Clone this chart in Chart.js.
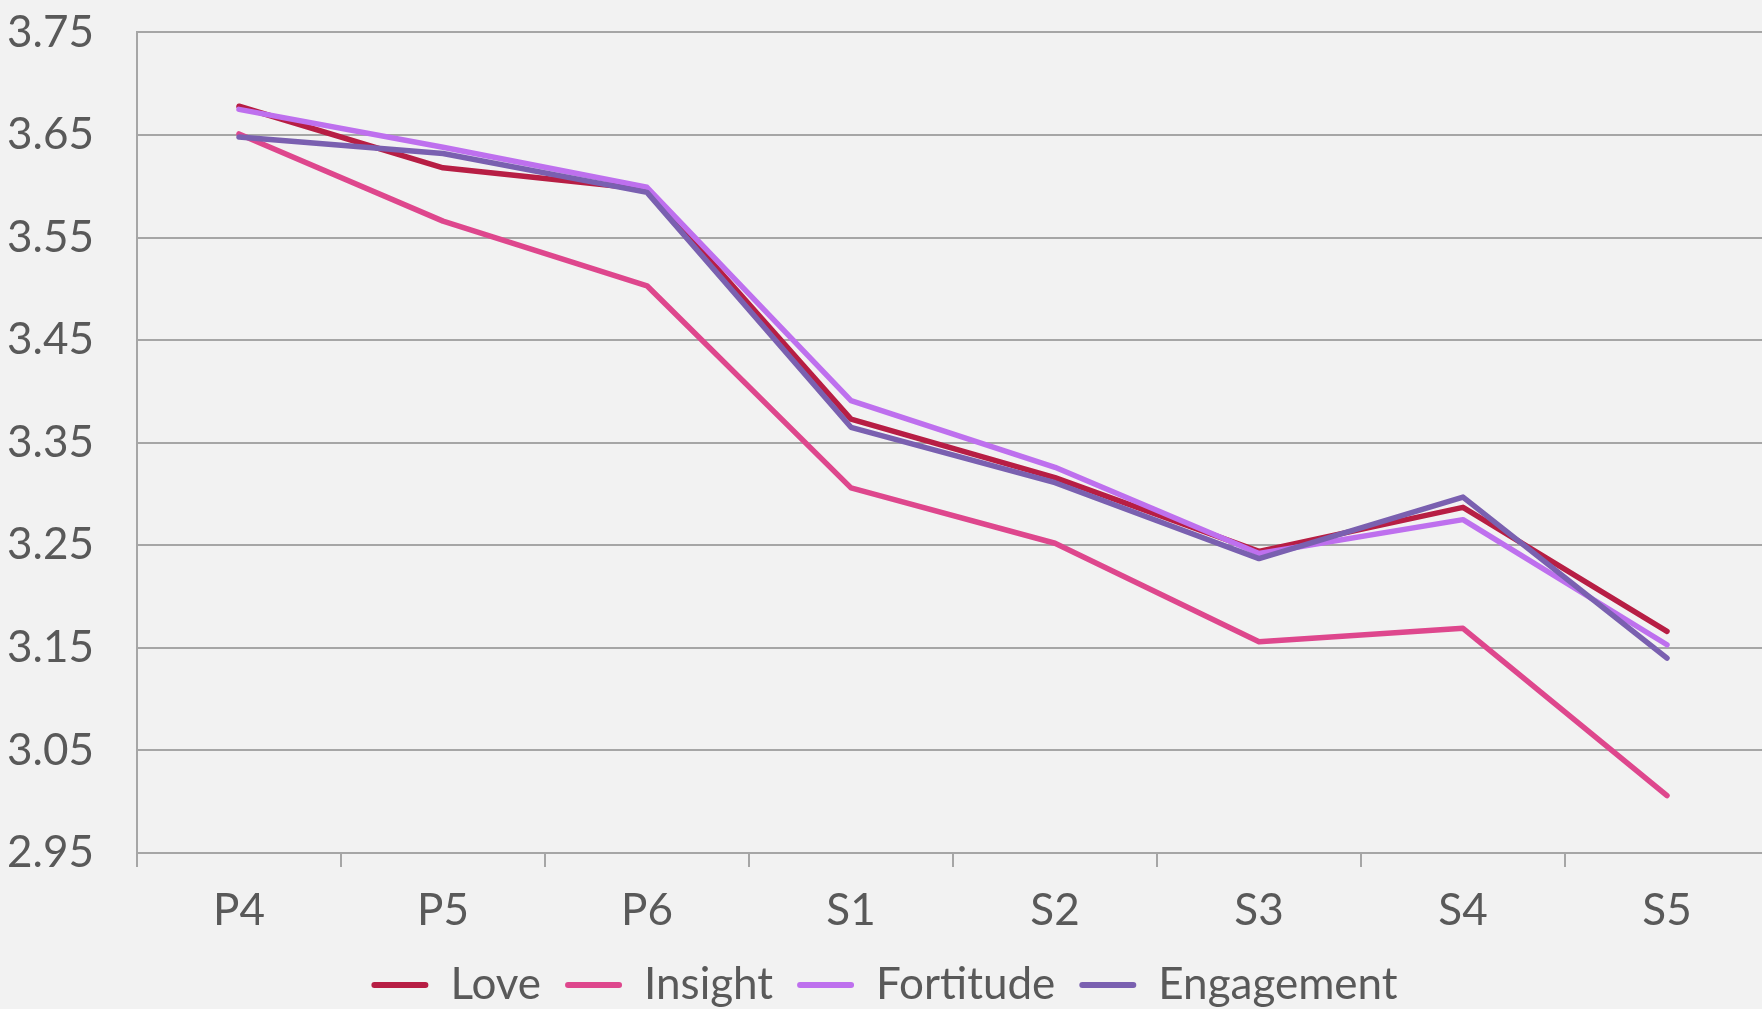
<!DOCTYPE html>
<html>
<head>
<meta charset="utf-8">
<script src="https://cdn.jsdelivr.net/npm/chart.js@4/dist/chart.umd.min.js"></script>
<style>
    html, body { margin: 0; padding: 0; background: #F2F2F2; overflow: hidden; }
    #wrap { position: absolute; left: 0; top: 0; width: 1769px; height: 1017px; }
</style>
</head>
<body>
<div id="wrap"><canvas id="lineChart"></canvas></div>
<script>
// ==================== DATA ====================
const grades = ['P4', 'P5', 'P6', 'S1', 'S2', 'S3', 'S4', 'S5'];
const love       = [3.678, 3.618, 3.597, 3.373, 3.316, 3.244, 3.287, 3.166];
const insight    = [3.651, 3.566, 3.503, 3.306, 3.252, 3.156, 3.169, 3.006];
const fortitude  = [3.675, 3.638, 3.599, 3.391, 3.326, 3.242, 3.275, 3.153];
const engagement = [3.648, 3.632, 3.594, 3.365, 3.311, 3.237, 3.297, 3.140];
const yTicks = [2.95, 3.05, 3.15, 3.25, 3.35, 3.45, 3.55, 3.65, 3.75];

const textColor = '#595959';
const gridColor = '#A6A6A6';
const fontFamily = 'Lato, "Open Sans", sans-serif';

// Build one line dataset (later series sit on top, like the original)
function makeLine(label, data, color, order) {
    return {
        label: label,
        data: data,
        borderColor: color,
        backgroundColor: color,
        borderWidth: 5.5,
        borderCapStyle: 'round',
        borderJoinStyle: 'round',
        tension: 0,
        fill: false,
        pointRadius: 0,
        pointHoverRadius: 0,
        order: order
    };
}

document.addEventListener('DOMContentLoaded', function() {
    const ctx = document.getElementById('lineChart').getContext('2d');
    new Chart(ctx, {
        type: 'line',
        data: {
            labels: grades,
            datasets: [
                makeLine('Love', love, '#B71E44', 4),
                makeLine('Insight', insight, '#DE478D', 3),
                makeLine('Fortitude', fortitude, '#BE70EE', 2),
                makeLine('Engagement', engagement, '#7A60B0', 1)
            ]
        },
        options: {
            responsive: true,
            maintainAspectRatio: false,
            animation: false,
            layout: { padding: { top: 0, left: 0, right: 0, bottom: 0 } },
            plugins: {
                title: { display: false },
                tooltip: { enabled: false },
                legend: {
                    display: true,
                    position: 'bottom',
                    labels: {
                        color: textColor,
                        font: { family: fontFamily, size: 44 },
                        boxWidth: 57,
                        boxHeight: 6,
                        useBorderRadius: true,
                        borderRadius: 3,
                        padding: 24,
                        generateLabels: function(chart) {
                            return chart.data.datasets.map((ds, i) => ({
                                text: ds.label,
                                fillStyle: ds.borderColor,
                                strokeStyle: ds.borderColor,
                                lineWidth: 0,
                                fontColor: textColor,
                                hidden: false,
                                datasetIndex: i,
                                borderRadius: 3
                            }));
                        }
                    }
                }
            },
            scales: {
                x: {
                    offset: true,
                    afterFit: s => { s.height = 86; },
                    grid: {
                        offset: true,
                        drawOnChartArea: false,
                        drawTicks: true,
                        tickLength: 14,
                        color: gridColor,
                        lineWidth: 2
                    },
                    border: { display: true, color: gridColor, width: 2 },
                    ticks: {
                        color: textColor,
                        font: { family: fontFamily, size: 44 },
                        padding: 17,
                        maxRotation: 0
                    }
                },
                y: {
                    min: 2.95,
                    max: 3.75,
                    afterFit: s => { s.width = 137; },
                    afterBuildTicks: s => { s.ticks = yTicks.map(v => ({ value: v })); },
                    grid: {
                        drawTicks: true,
                        tickLength: 37,
                        tickColor: 'rgba(0,0,0,0)',
                        color: gridColor,
                        lineWidth: 2
                    },
                    border: { display: true, color: gridColor, width: 2 },
                    ticks: {
                        color: textColor,
                        font: { family: fontFamily, size: 44 },
                        padding: 6,
                        callback: v => Number(v).toFixed(2)
                    }
                }
            }
        }
    });
});
</script>
</body>
</html>
